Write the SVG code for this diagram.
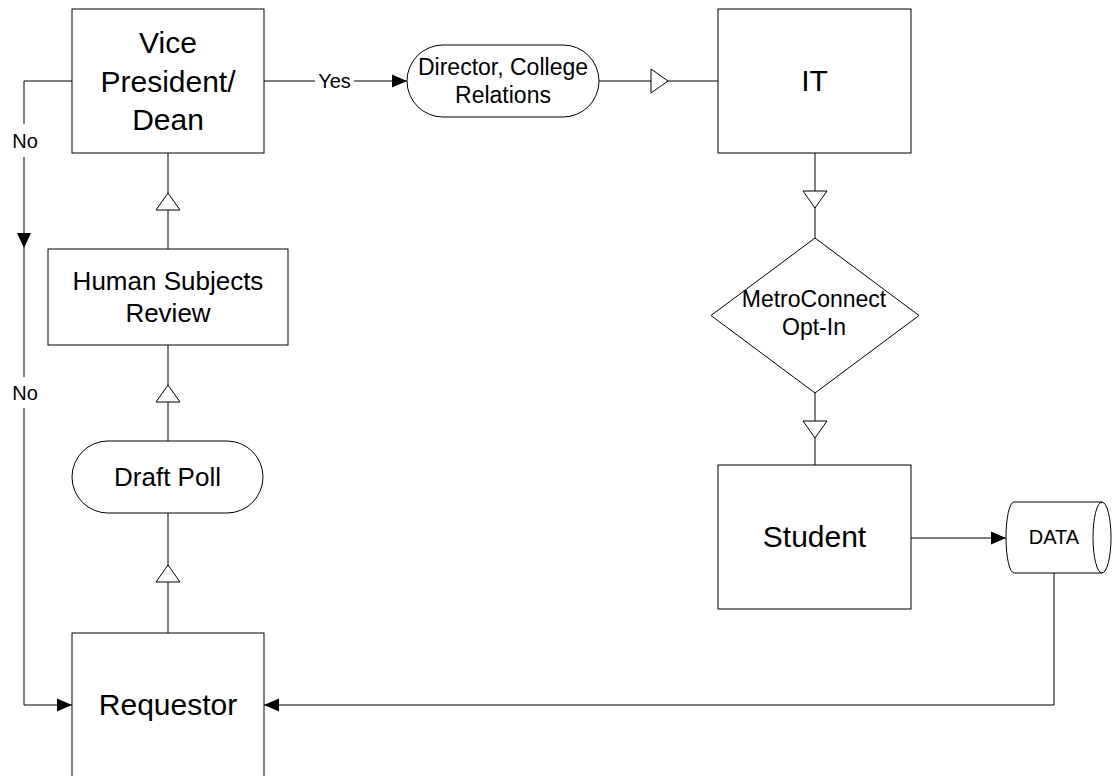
<svg xmlns="http://www.w3.org/2000/svg" xmlns:xlink="http://www.w3.org/1999/xlink" width="1118" height="776" viewBox="0 0 1118 776">
  <style>
    .shape { fill: #ffffff; stroke: #000000; stroke-width: 1; }
    .conn { fill: none; stroke: #000000; stroke-width: 1; }
    .hollow { fill: #ffffff; stroke: #000000; stroke-width: 1; }
    .t { font-family: "Liberation Sans", Arial, sans-serif; fill: #000000; text-anchor: middle; }
    .big { font-size: 30px; }
    .mid { font-size: 26px; }
    .sm { font-size: 23px; }
    .lbl { font-size: 20px; }
    .bg { fill: #ffffff; stroke: none; }
  </style>
  <defs>
    <marker id="arrow" markerUnits="userSpaceOnUse" markerWidth="15" markerHeight="14" refX="15" refY="7" orient="auto">
      <path d="M0,0.5 L15,7 L0,13.5 Z" fill="#000000"/>
    </marker>
    <polygon id="hollowTri" class="hollow" points="-17,-12 0,0 -17,12"/>
  </defs>
  <rect width="1118" height="776" fill="#ffffff"/>

  <g id="connectors">
    <!-- VP -> Director (Yes) -->
    <line class="conn" x1="264" y1="81" x2="407" y2="81" marker-end="url(#arrow)"/>
    <rect class="bg" x="315" y="70" width="39" height="24"/>
    <text class="t lbl" x="334.5" y="88">Yes</text>
    <!-- Director -> IT -->
    <line class="conn" x1="599" y1="81" x2="718" y2="81"/>
    <use xlink:href="#hollowTri" transform="translate(668,81)"/>
    <!-- IT -> Diamond -->
    <line class="conn" x1="815" y1="153" x2="815" y2="238"/>
    <use xlink:href="#hollowTri" transform="translate(815,208) rotate(90)"/>
    <!-- Diamond -> Student -->
    <line class="conn" x1="815" y1="393" x2="815" y2="465"/>
    <use xlink:href="#hollowTri" transform="translate(815,438) rotate(90)"/>
    <!-- Student -> DATA -->
    <line class="conn" x1="911" y1="538" x2="1006" y2="538" marker-end="url(#arrow)"/>
    <!-- DATA -> Requestor -->
    <path class="conn" d="M1054,573 V705 H264" marker-end="url(#arrow)"/>
    <!-- Requestor -> Draft Poll -->
    <line class="conn" x1="168" y1="633" x2="168" y2="513"/>
    <use xlink:href="#hollowTri" transform="translate(168,565) rotate(-90)"/>
    <!-- Draft Poll -> Human Subjects Review -->
    <line class="conn" x1="168" y1="441" x2="168" y2="345"/>
    <use xlink:href="#hollowTri" transform="translate(168,385) rotate(-90)"/>
    <!-- Human Subjects Review -> VP -->
    <line class="conn" x1="168" y1="249" x2="168" y2="153"/>
    <use xlink:href="#hollowTri" transform="translate(168,193) rotate(-90)"/>
    <!-- VP -> Requestor (No) -->
    <path class="conn" d="M72,81 H24 V705 H72" marker-end="url(#arrow)"/>
    <polygon points="17,233 31,233 24,248" fill="#000000"/>
    <rect class="bg" x="10" y="124" width="30" height="33"/>
    <text class="t lbl" x="25" y="148">No</text>
    <rect class="bg" x="10" y="377" width="30" height="31"/>
    <text class="t lbl" x="25" y="400">No</text>
  </g>

  <g id="node-vp">
    <rect class="shape" x="72" y="9" width="192" height="144"/>
    <text class="t big" x="168" y="53">Vice</text>
    <text class="t big" x="168" y="92">President/</text>
    <text class="t big" x="168" y="130">Dean</text>
  </g>

  <g id="node-director">
    <rect class="shape" x="407" y="45" width="192" height="72" rx="36" ry="36"/>
    <text class="t sm" x="503" y="75">Director, College</text>
    <text class="t sm" x="503" y="103">Relations</text>
  </g>

  <g id="node-it">
    <rect class="shape" x="718" y="9" width="193" height="144"/>
    <text class="t big" x="814.5" y="91">IT</text>
  </g>

  <g id="node-optin">
    <polygon class="shape" points="815,238 919,315.5 815,393 711,315.5"/>
    <text class="t sm" x="814" y="307">MetroConnect</text>
    <text class="t sm" x="814" y="335">Opt-In</text>
  </g>

  <g id="node-student">
    <rect class="shape" x="718" y="465" width="193" height="144"/>
    <text class="t big" x="814.5" y="547">Student</text>
  </g>

  <g id="node-data">
    <path class="shape" d="M1014,502 H1102 A9,35.5 0 0 1 1102,573 H1014 A8,35.5 0 0 1 1014,502 Z"/>
    <path class="conn" d="M1102,502 A9,35.5 0 0 0 1102,573"/>
    <text class="t lbl" x="1054" y="544">DATA</text>
  </g>

  <g id="node-hsr">
    <rect class="shape" x="48" y="249" width="240" height="96"/>
    <text class="t mid" x="168" y="290">Human Subjects</text>
    <text class="t mid" x="168" y="322">Review</text>
  </g>

  <g id="node-draft">
    <rect class="shape" x="72" y="441" width="191" height="72" rx="36" ry="36"/>
    <text class="t mid" x="167.5" y="486">Draft Poll</text>
  </g>

  <g id="node-requestor">
    <rect class="shape" x="72" y="633" width="192" height="150"/>
    <text class="t big" x="168" y="715">Requestor</text>
  </g>
</svg>
